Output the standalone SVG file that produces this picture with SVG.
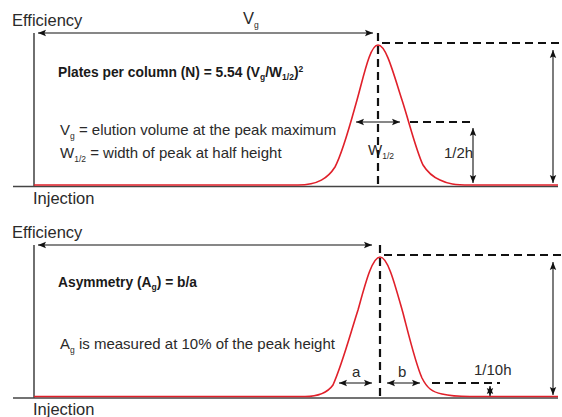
<svg xmlns="http://www.w3.org/2000/svg" width="562" height="417" viewBox="0 0 562 417">
<defs>
<marker id="ah" viewBox="0 0 10 10" refX="10" refY="5" markerWidth="8" markerHeight="8" markerUnits="userSpaceOnUse" orient="auto-start-reverse">
<path d="M0,1 L10,5 L0,9 L2,5 Z" fill="#111"/>
</marker>
</defs>
<style>
text{font-family:"Liberation Sans",Arial,sans-serif;fill:#2a2a2a}
.lab{font-size:16.5px}
.t{font-size:15px}
.b{font-size:13.8px;font-weight:bold;fill:#1a1a1a}
.s{font-size:8.5px}
.ax{stroke:#222;stroke-width:1.3;fill:none}
.base{stroke:#444;stroke-width:1.3;fill:none}
.red{stroke:#e0202a;stroke-width:1.6;fill:none}
.arr{stroke:#111;stroke-width:1.1;fill:none;marker-start:url(#ah);marker-end:url(#ah)}
.dash{stroke:#111;stroke-width:2.2;stroke-dasharray:8 5;fill:none}
</style>

<g id="top-panel">
<text class="lab" x="12" y="26">Efficiency</text>
<text class="lab" x="33" y="204">Injection</text>
<line class="ax" x1="34" y1="33" x2="34" y2="186"/>
<line class="base" x1="13" y1="186.5" x2="558" y2="186.5"/>
<path class="red" d="M34,185 H298 C318,185 328,178 335,167 C343,152 350,125 357,100 C364,75 370,45 378,45 C386,45 393,72 402,100 C410,125 416,150 423,165 C428,173 433,177 440,180 C448,184 455,185 470,185 H558"/>
<text x="243" y="24" class="lab">V<tspan class="s" dy="4">g</tspan></text>
<text class="b" x="58" y="77">Plates per column (N) = 5.54 (V<tspan class="s" dy="3">g</tspan><tspan dy="-3">/W</tspan><tspan class="s" dy="3">1/2</tspan><tspan dy="-3">)</tspan><tspan class="s" dy="-5">2</tspan></text>
<text class="t" x="60" y="135">V<tspan class="s" dy="4">g</tspan><tspan dy="-4"> = elution volume at the peak maximum</tspan></text>
<text class="t" x="60" y="158">W<tspan class="s" dy="4">1/2</tspan><tspan dy="-4"> = width of peak at half height</tspan></text>
<text class="t" x="368" y="155">W<tspan class="s" dy="4">1/2</tspan></text>
<text class="t" x="444" y="158">1/2h</text>
</g>

<g id="bottom-panel">
<text class="lab" x="12" y="238">Efficiency</text>
<text class="lab" x="33" y="415">Injection</text>
<line class="ax" x1="34" y1="245" x2="34" y2="398"/>
<line class="base" x1="13" y1="398" x2="558" y2="398"/>
<path class="red" d="M34,396.5 H305 C320,396.5 328,392 333,385 C342,365 350,335 358,310 C365,285 372,257 380,257 C388,257 395,285 403,313 C410,340 416,365 422,378 C427,388 432,392 442,394 C450,396 455,396.5 470,396.5 H558"/>
<text class="b" x="58" y="287">Asymmetry (A<tspan class="s" dy="3">g</tspan><tspan dy="-3">) = b/a</tspan></text>
<text class="t" x="60" y="349">A<tspan class="s" dy="4">g</tspan><tspan dy="-4"> is measured at 10% of the peak height</tspan></text>
<text class="t" x="352" y="377">a</text>
<text class="t" x="398" y="377">b</text>
<text class="t" x="474" y="375">1/10h</text>
</g>

<g id="connectors">
<line class="arr" x1="38" y1="33" x2="373" y2="33"/>
<line class="dash" x1="378" y1="33" x2="378" y2="186"/>
<line class="dash" x1="382" y1="43" x2="562" y2="43"/>
<line class="arr" x1="553" y1="50" x2="553" y2="183"/>
<line class="arr" x1="356" y1="122" x2="400" y2="122"/>
<line class="dash" x1="410" y1="122" x2="475" y2="122"/>
<line class="arr" x1="473" y1="128" x2="473" y2="183"/>

<line class="arr" x1="38" y1="245" x2="372" y2="245"/>
<line class="dash" x1="380" y1="245" x2="380" y2="398"/>
<line class="dash" x1="384" y1="255" x2="562" y2="255"/>
<line class="arr" x1="553" y1="262" x2="553" y2="395"/>
<line class="arr" x1="339" y1="383" x2="372" y2="383"/>
<line class="arr" x1="387" y1="383" x2="420" y2="383"/>
<line class="dash" x1="432" y1="383" x2="500" y2="383"/>
<line class="arr" x1="490" y1="386" x2="490" y2="396"/>
</g>
</svg>
